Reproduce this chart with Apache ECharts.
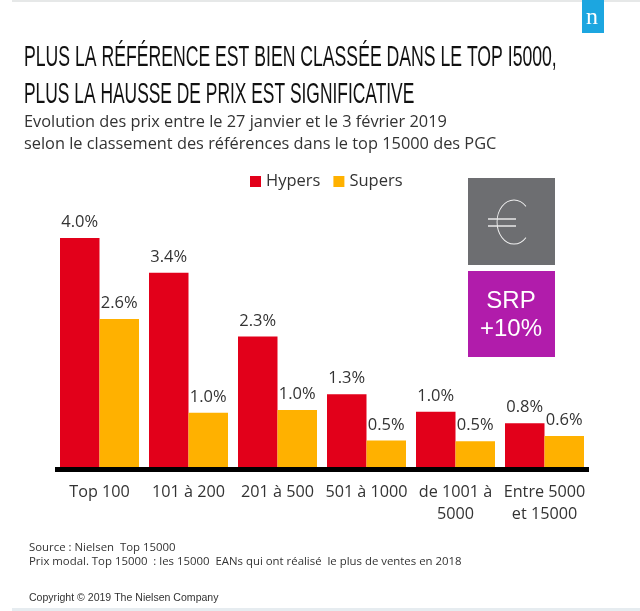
<!DOCTYPE html>
<html><head><meta charset="utf-8">
<style>html,body{margin:0;padding:0;background:#fff}#c{width:640px;height:611px}</style>
<script src="https://cdn.jsdelivr.net/npm/echarts@6/dist/echarts.min.js"></script>
</head><body><div id="c"></div>
<script>
const categories = ['Top 100','101 à 200','201 à 500','501 à 1000','de 1001 à\n5000','Entre 5000\net 15000'];
const hypers = [4.0,3.4,2.3,1.3,1.0,0.8];
const supers = [2.6,0.98,1.03,0.5,0.49,0.58];
const titleLines = ['PLUS LA RÉFÉRENCE EST BIEN CLASSÉE DANS LE TOP I5000,','PLUS LA HAUSSE DE PRIX EST SIGNIFICATIVE'];
const subtitleLines = ['Evolution des prix entre le 27 janvier et le 3 février 2019','selon le classement des références dans le top 15000 des PGC'];
const sourceLines = ['Source : Nielsen  Top 15000','Prix modal. Top 15000  : les 15000  EANs qui ont réalisé  le plus de ventes en 2018'];
const copyright = 'Copyright © 2019 The Nielsen Company';
const RED='#E2001A', ORANGE='#FFB100', BODY='"Open Sans", sans-serif';
const chart = echarts.init(document.getElementById('c'),null,{renderer:'canvas'});
const label = {show:true,position:'top',distance:7,fontFamily:BODY,fontSize:16.5,color:'#333',formatter:p=>p.value.toFixed(1)+'%'};
function txt(x,y,t,font,size,color,sx,extra){return {type:'text',x:x,y:y,scaleX:sx||1,style:Object.assign({text:t,fontFamily:font,fontSize:size,fill:color,verticalAlign:'middle'},extra||{})};}
chart.setOption({
 animation:false,
 backgroundColor:'#fff',
 legend:{left:245,top:168,itemWidth:11,itemHeight:11,itemGap:13,icon:'rect',
   textStyle:{fontFamily:BODY,fontSize:16.5,color:'#333'},data:['Hypers','Supers']},
 grid:{left:55,right:51,top:238,bottom:141.5},
 xAxis:{type:'category',data:categories,z:5,
   axisLine:{lineStyle:{color:'#000',width:5,cap:'butt'}},axisTick:{show:false},
   axisLabel:{interval:0,fontFamily:BODY,fontSize:16.2,color:'#333',margin:12,lineHeight:22}},
 yAxis:{type:'value',min:0,max:4,show:false,splitLine:{show:false}},
 series:[
  {name:'Hypers',type:'bar',data:hypers,barWidth:39.5,barGap:'0%',itemStyle:{color:RED},label:label},
  {name:'Supers',type:'bar',data:supers,barWidth:39.5,itemStyle:{color:ORANGE},label:label}
 ],
 graphic:[
  {type:'rect',shape:{x:12,y:0,width:628,height:2},style:{fill:'#e6e8e8'}},
  {type:'rect',shape:{x:12,y:608,width:628,height:3},style:{fill:'#e6ecf0'}},
  {type:'rect',shape:{x:582,y:0,width:22,height:33},style:{fill:'#1CA6E0'}},
  txt(586,18,'n','"Liberation Serif", serif',24,'#fff'),
  txt(24,58,titleLines[0],'"Liberation Sans", sans-serif',29,'#111',0.608),
  txt(24,95,titleLines[1],'"Liberation Sans", sans-serif',29,'#111',0.6),
  txt(24,122,subtitleLines[0],BODY,16.35,'#333'),
  txt(24,144,subtitleLines[1],BODY,16.35,'#333'),
  {type:'rect',shape:{x:468,y:178,width:87,height:87},style:{fill:'#6D6E71'}},
  {type:'rect',shape:{x:468,y:271,width:87,height:86},style:{fill:'#B11CAB'}},
  {type:'arc',x:514,y:222,scaleX:0.77,shape:{cx:0,cy:0,r:22,startAngle:Math.PI/4,endAngle:Math.PI*7/4,clockwise:true},style:{fill:'none',stroke:'#f0f0f0',lineWidth:1.2}},
  {type:'line',shape:{x1:488,y1:219,x2:516,y2:219},style:{stroke:'#e8e8e8',lineWidth:1.5}},
  {type:'line',shape:{x1:488,y1:226,x2:516,y2:226},style:{stroke:'#e8e8e8',lineWidth:1.5}},
  txt(511,301,'SRP','"Liberation Sans", sans-serif',24,'#fff',1,{align:'center'}),
  txt(511,329,'+10%','"Liberation Sans", sans-serif',24,'#fff',1,{align:'center'}),
  txt(29,548,sourceLines[0],BODY,11.4,'#333'),
  txt(29,562,sourceLines[1],BODY,11.4,'#333'),
  txt(29,598,copyright,'"Liberation Sans", sans-serif',10.55,'#333')
 ]
});
</script></body></html>
